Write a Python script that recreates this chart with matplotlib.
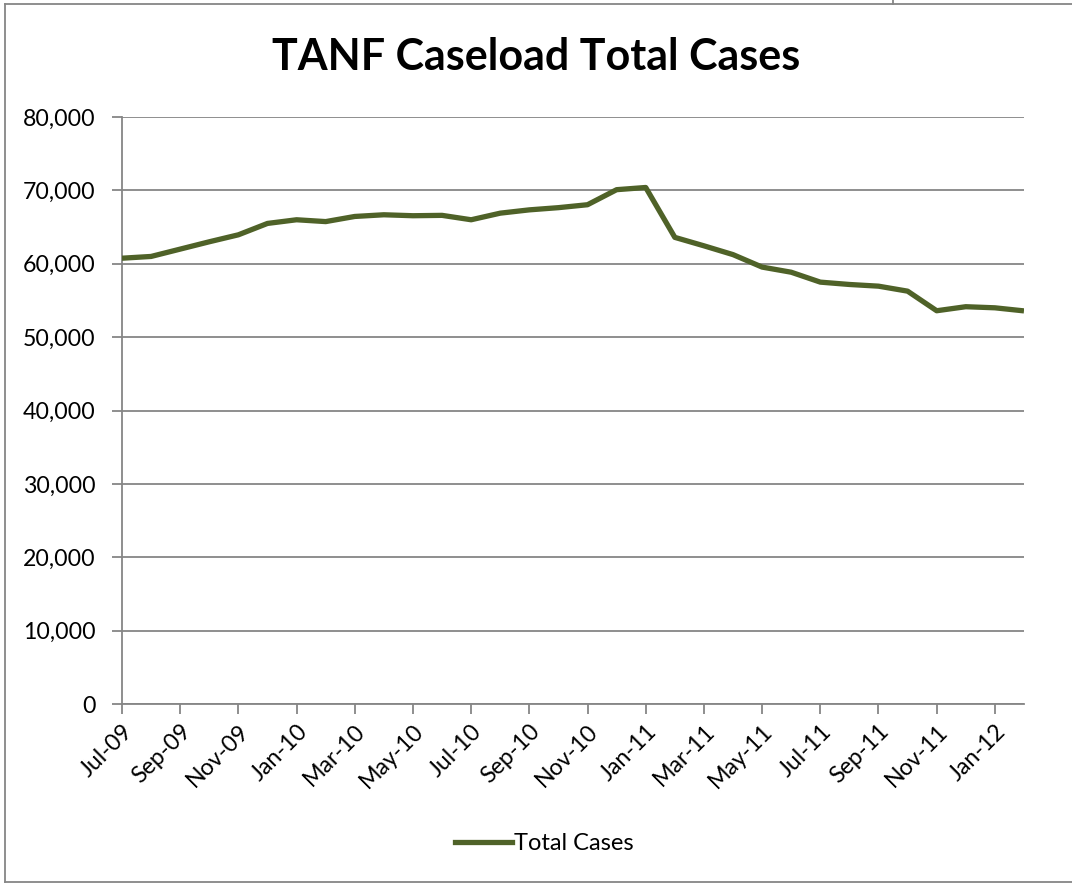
import matplotlib.pyplot as plt
from matplotlib.lines import Line2D

plt.rcParams['font.family'] = ['Lato', 'DejaVu Sans']

# Monthly TANF caseload, Jul-09 .. Feb-12
months = ['Jul-09', 'Aug-09', 'Sep-09', 'Oct-09', 'Nov-09', 'Dec-09',
          'Jan-10', 'Feb-10', 'Mar-10', 'Apr-10', 'May-10', 'Jun-10',
          'Jul-10', 'Aug-10', 'Sep-10', 'Oct-10', 'Nov-10', 'Dec-10',
          'Jan-11', 'Feb-11', 'Mar-11', 'Apr-11', 'May-11', 'Jun-11',
          'Jul-11', 'Aug-11', 'Sep-11', 'Oct-11', 'Nov-11', 'Dec-11',
          'Jan-12', 'Feb-12']
total_cases = [60760, 61000, 62000, 63000, 63950, 65500,
               66000, 65750, 66450, 66680, 66550, 66600,
               66000, 66900, 67350, 67650, 68050, 70100,
               70400, 63600, 62450, 61250, 59550, 58850,
               57500, 57180, 56950, 56270, 53600, 54150,
               54000, 53580]
y_ticks = [0, 10000, 20000, 30000, 40000, 50000, 60000, 70000, 80000]

grid_col = '#868686'
line_col = '#4F6228'

fig = plt.figure(figsize=(10.72, 8.84), dpi=100)
ax = fig.add_axes([0.1138, 0.2036, 0.8414, 0.664])

x = list(range(len(months)))
ax.plot(x, total_cases, color=line_col, linewidth=3.8, solid_joinstyle='round',
        solid_capstyle='butt', label='Total Cases', zorder=3)

ax.set_xlim(0, len(months) - 1)
ax.set_ylim(0, 80000)
ax.set_yticks(y_ticks)
ax.set_yticklabels([f'{v:,}' for v in y_ticks])
ax.set_xticks(x[::2])
ax.set_xticklabels(months[::2], rotation=45, ha='right', rotation_mode='anchor')

ax.grid(axis='y', color=grid_col, linewidth=1.3)
ax.set_axisbelow(True)
for side in ['top', 'right']:
    ax.spines[side].set_visible(False)
for side in ['left', 'bottom']:
    ax.spines[side].set_color(grid_col)
    ax.spines[side].set_linewidth(1.3)
ax.tick_params(axis='both', colors=grid_col, length=7, width=1.3, labelsize=16.7,
               labelcolor='black')
ax.tick_params(axis='y', pad=12)
ax.tick_params(axis='x', pad=5)

fig.text(0.5, 0.935, 'TANF Caseload Total Cases', ha='center', va='center',
         fontsize=31, fontweight='bold')

fig.legend(handles=[Line2D([0], [0], color=line_col, linewidth=3.8)],
           labels=['Total Cases'], loc='center', bbox_to_anchor=(0.508, 0.046),
           frameon=False, fontsize=17, handlelength=2.4, handletextpad=0.1)

# chart border
border = dict(color=grid_col, linewidth=1.3, transform=fig.transFigure)
fig.add_artist(Line2D([5 / 1072, 5 / 1072], [1 - 4 / 884, 1 - 882 / 884], **border))
fig.add_artist(Line2D([5 / 1072, 1.0], [1 - 4 / 884, 1 - 4 / 884], **border))
fig.add_artist(Line2D([5 / 1072, 1.0], [1 - 882 / 884, 1 - 882 / 884], **border))
fig.add_artist(Line2D([893 / 1072, 893 / 1072], [1.0, 1 - 4 / 884], **border))

fig.savefig('out.png', dpi=100)
